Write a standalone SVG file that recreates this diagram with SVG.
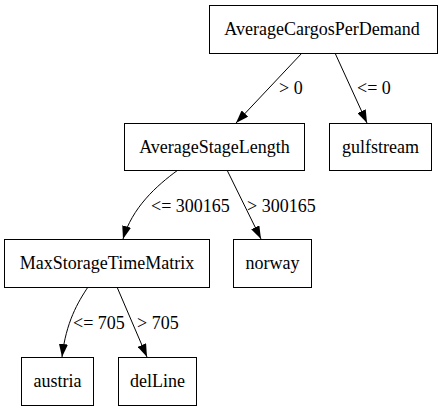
<svg xmlns="http://www.w3.org/2000/svg" width="443" height="411" viewBox="0 0 443 411">
<style>
.n rect{fill:#fff;stroke:#000;stroke-width:1}
.t{font-family:'Liberation Serif',serif;font-size:18px;fill:#000}
.n text{text-anchor:middle}
.e path{fill:none;stroke:#000;stroke-width:1}
</style>
<defs>
<marker id="ah" markerUnits="userSpaceOnUse" markerWidth="13" markerHeight="9.1" refX="10" refY="3.5" orient="auto" viewBox="0 0 10 7">
<polygon points="0,0 10,3.5 0,7" fill="#000"/>
</marker>
</defs>
<rect width="443" height="411" fill="#fff"/>
<g id="edges" class="e">
<path d="M302,53 L236,123" marker-end="url(#ah)"/>
<path d="M335,53 L367,123" marker-end="url(#ah)"/>
<path d="M178,170 C156,186 132,208 123,239" marker-end="url(#ah)"/>
<path d="M227,170 L261,239" marker-end="url(#ah)"/>
<path d="M88,287 C78,302 66,322 62,357" marker-end="url(#ah)"/>
<path d="M117,287 L147,357" marker-end="url(#ah)"/>
<text class="t" x="279" y="94">&gt; 0</text>
<text class="t" x="357" y="94">&lt;= 0</text>
<text class="t" x="151" y="212">&lt;= 300165</text>
<text class="t" x="247" y="212">&gt; 300165</text>
<text class="t" x="73" y="329">&lt;= 705</text>
<text class="t" x="137" y="329">&gt; 705</text>
</g>
<g id="n1" class="n"><rect x="209.5" y="5.5" width="228" height="48"/><text class="t" x="322" y="34.5">AverageCargosPerDemand</text></g>
<g id="n2" class="n"><rect x="124.5" y="123.5" width="180" height="47"/><text class="t" x="214.5" y="152.5">AverageStageLength</text></g>
<g id="n3" class="n"><rect x="329.5" y="123.5" width="102" height="47"/><text class="t" x="380.5" y="152.5">gulfstream</text></g>
<g id="n4" class="n"><rect x="4.5" y="239.5" width="205" height="48"/><text class="t" x="107" y="268.5">MaxStorageTimeMatrix</text></g>
<g id="n5" class="n"><rect x="233.5" y="239.5" width="78" height="48"/><text class="t" x="272.5" y="268.5">norway</text></g>
<g id="n6" class="n"><rect x="21.5" y="357.5" width="72" height="48"/><text class="t" x="57.5" y="386.5">austria</text></g>
<g id="n7" class="n"><rect x="118.5" y="357.5" width="78" height="48"/><text class="t" x="157.5" y="386.5">delLine</text></g>
</svg>
